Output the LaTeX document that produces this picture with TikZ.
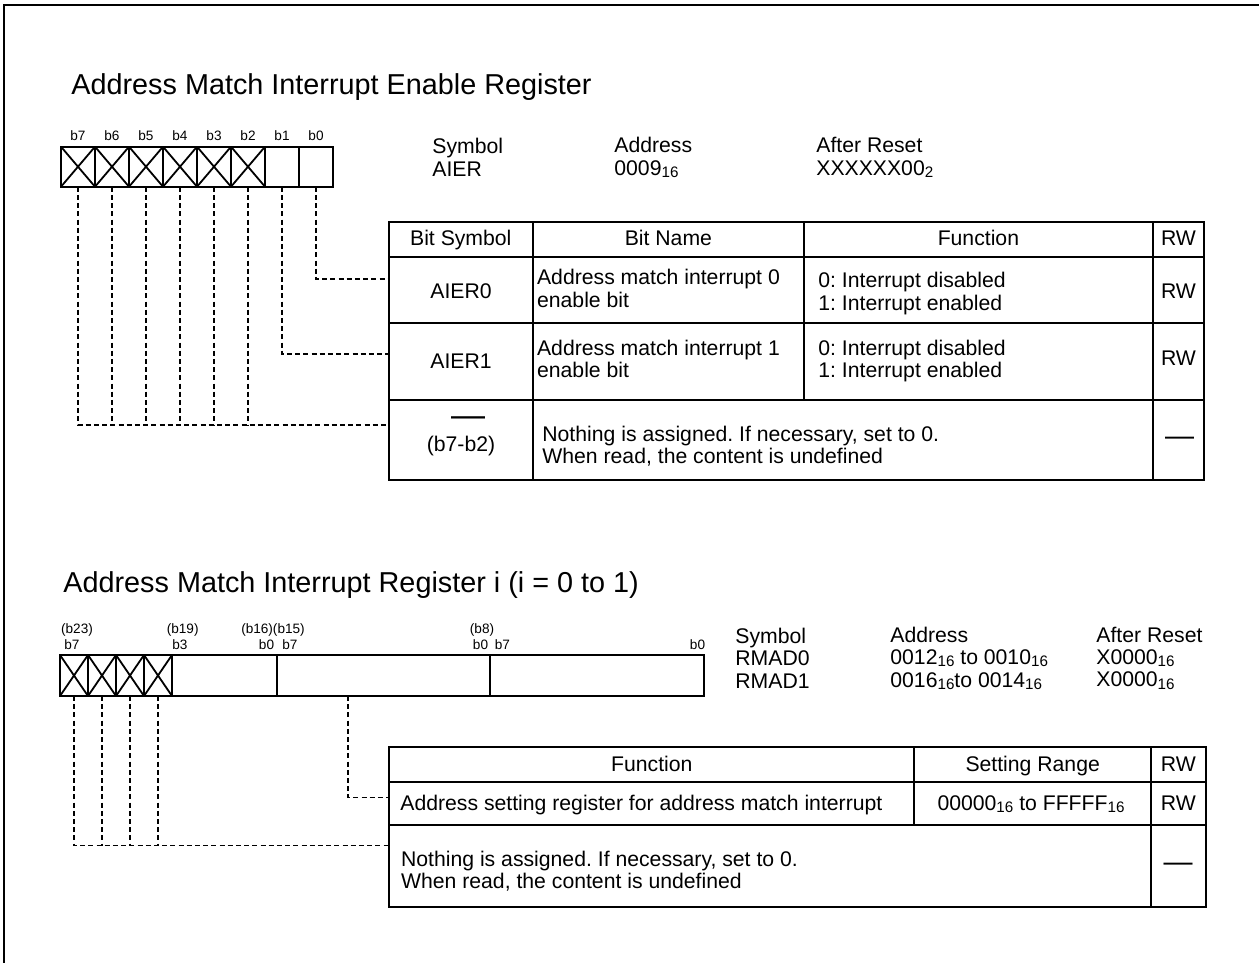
\documentclass[tikz,border=0pt]{standalone}
\usepackage{fontspec}
\setmainfont{Liberation Sans}
\newcommand{\hexsub}[1]{\raisebox{-.18ex}{\fontsize{7.6}{8}\selectfont #1}}
\newcommand{\regtitle}{\fontsize{14.4}{16}\selectfont}
\newcommand{\regtext}{\fontsize{10.6}{11.2}\selectfont}
\frenchspacing

\begin{document}
\begin{tikzpicture}[x=.5pt,y=-.5pt,line join=miter,
  regline/.style={line width=1pt},
  leader/.style={line width=.65pt,dash pattern=on 2.5pt off 1.6pt},
  xmark/.style={line width=.9pt},
  bitcell/.style={draw,line width=1pt,inner sep=0pt,outer sep=0pt,
    minimum width=17pt,minimum height=20pt},
  bitlbl/.style={font=\fontsize{6.8}{8}\selectfont,inner sep=0pt},
  tbltxt/.style={font=\regtext,inner sep=0pt,align=left},
  celltxt/.style={font=\regtext,inner sep=0pt,text height=7.7pt,text depth=2.2pt},
  dashtxt/.style={font=\fontsize{14.5}{15}\selectfont,inner sep=0pt}]
  \useasboundingbox (0,0) rectangle (1259,963);
  \draw[line width=1pt] (4,963) -- (4,5) -- (1259,5);

  \node[font=\regtitle,anchor=base west,inner sep=0pt] (ttl1) at (71,95)
    {Address Match Interrupt Enable Register};
  \foreach \i in {0,...,7}{
    \node[bitcell] (e\i) at ({316-34*\i},166.7) {};
    \node[bitlbl] at ({316-34*\i},136) {b\i};
  }
  \foreach \i in {2,...,7}
    \draw[xmark] (e\i.north west) -- (e\i.south east)
                 (e\i.south west) -- (e\i.north east);
  \node[tbltxt,anchor=west] (sym1) at (432,157.5) {Symbol\\AIER};
  \node[tbltxt,anchor=west] (adr1) at (614,157.5) {Address\\0009\hexsub{16}};
  \node[tbltxt,anchor=west] (rst1) at (816,157.5) {After Reset\\XXXXXX00\hexsub{2}};

  \draw[regline] (389,221.7) rectangle (1204.3,480);
  \draw[regline] (389,256.7) -- (1204.3,256.7) (389,323) -- (1204.3,323)
    (389,400) -- (1204.3,400);
  \draw[regline] (532.7,221.7) -- (532.7,480) (804,221.7) -- (804,400)
    (1152.7,221.7) -- (1152.7,480);
  \node[celltxt] (bs) at (460.8,240) {Bit Symbol};
  \node[celltxt] (bn) at (668.4,240) {Bit Name};
  \node[celltxt] (fc) at (978.4,240) {Function};
  \node[celltxt] (rw) at (1178.5,240) {RW};
  \node[celltxt] (aier0) at (461,293) {AIER0};
  \node[tbltxt,anchor=west] (nm0) at (536.7,288.5) {Address match interrupt 0\\enable bit};
  \node[tbltxt,anchor=west] (fn0) at (818,293.5) {0: Interrupt disabled\\1: Interrupt enabled};
  \node[celltxt] (rw0) at (1178.5,293) {RW};
  \node[celltxt] (aier1) at (461,363) {AIER1};
  \node[tbltxt,anchor=west] (nm1) at (536.7,359) {Address match interrupt 1\\enable bit};
  \node[tbltxt,anchor=west] (fn1) at (818,361) {0: Interrupt disabled\\1: Interrupt enabled};
  \node[celltxt] (rw1) at (1178.5,360) {RW};
  \node[font=\fontsize{17}{17}\selectfont,inner sep=0pt] (nb) at (468,422) {—};
  \node[celltxt] (rsv) at (461,446) {(b7-b2)};
  \node[tbltxt,anchor=west] (nt0) at (542,446)
    {Nothing is assigned. If necessary, set to 0.\\When read, the content is undefined};
  \node[dashtxt] (rw2) at (1179.5,441) {—};

  \coordinate (t0) at (389,279);
  \coordinate (t1) at (389,354);
  \coordinate (t2) at (389,425);
  \draw[leader] (e0.south) |- (t0);
  \draw[leader] (e1.south) |- (t1);
  \draw[leader] (e7.south) |- (t2);
  \foreach \i in {2,...,6}
    \draw[leader] (e\i.south) -- (e\i.south |- t2);

  \node[font=\regtitle,anchor=base west,inner sep=0pt] (ttl2) at (63,592)
    {Address Match Interrupt Register i (i = 0 to 1)};
  \foreach \i/\x in {7/74,6/102,5/130,4/158}{
    \node[bitcell,minimum width=14pt,minimum height=20.5pt] (m\i) at (\x,675.5) {};
    \draw[xmark] (m\i.north west) -- (m\i.south east)
                 (m\i.south west) -- (m\i.north east);
  }
  \node[bitcell,minimum width=52.5pt,minimum height=20.5pt] (hi) at (224.5,675.5) {};
  \node[bitcell,minimum width=106.5pt,minimum height=20.5pt] (mid) at (383.5,675.5) {};
  \node[bitcell,minimum width=107pt,minimum height=20.5pt] (lo) at (597,675.5) {};
  \node[bitlbl] at (77,629.5) {(b23)};
  \node[bitlbl] at (72,645) {b7};
  \node[bitlbl] at (182.7,629.5) {(b19)};
  \node[bitlbl,anchor=west] at (172,645) {b3};
  \node[bitlbl] at (273,629.5) {(b16)(b15)};
  \node[bitlbl,anchor=east] at (274.5,645) {b0};
  \node[bitlbl,anchor=west] at (282,645) {b7};
  \node[bitlbl] at (482,629.5) {(b8)};
  \node[bitlbl,anchor=east] at (488.5,645) {b0};
  \node[bitlbl,anchor=west] at (494.5,645) {b7};
  \node[bitlbl,anchor=east] at (705.5,645) {b0};
  \node[tbltxt,anchor=west] (sym2) at (735,658) {Symbol\\RMAD0\\RMAD1};
  \node[tbltxt,anchor=west] (adr2) at (890,658)
    {Address\\0012\hexsub{16} to 0010\hexsub{16}\\0016\hexsub{16}to 0014\hexsub{16}};
  \node[tbltxt,anchor=west] (rst2) at (1096,658)
    {After Reset\\X0000\hexsub{16}\\X0000\hexsub{16}};

  \draw[regline] (389.3,746.7) rectangle (1205.7,906.7);
  \draw[regline] (389.3,781.7) -- (1205.7,781.7) (389.3,825) -- (1205.7,825);
  \draw[regline] (914.3,746.7) -- (914.3,825) (1151,746.7) -- (1151,906.7);
  \node[celltxt] (fc2) at (651.8,766) {Function};
  \node[celltxt] (sr) at (1032.7,766) {Setting Range};
  \node[celltxt] (rw3) at (1178.4,766) {RW};
  \node[celltxt,anchor=west] (as0) at (400,805)
    {Address setting register for address match interrupt};
  \node[celltxt] (sr0) at (1031,805) {00000\hexsub{16} to FFFFF\hexsub{16}};
  \node[celltxt] (rw4) at (1178.4,805) {RW};
  \node[tbltxt,anchor=west] (nt1) at (400.7,871)
    {Nothing is assigned. If necessary, set to 0.\\When read, the content is undefined};
  \node[dashtxt] (rw5) at (1178,867) {—};

  \coordinate (tap) at ([xshift=-17.75pt]mid.south);
  \coordinate (u0) at (389.3,797.3);
  \coordinate (u1) at (389.3,845.7);
  \draw[leader] (tap) |- (u0);
  \draw[leader] (m7.south) |- (u1);
  \foreach \i in {4,5,6}
    \draw[leader] (m\i.south) -- (m\i.south |- u1);
\end{tikzpicture}
\end{document}
